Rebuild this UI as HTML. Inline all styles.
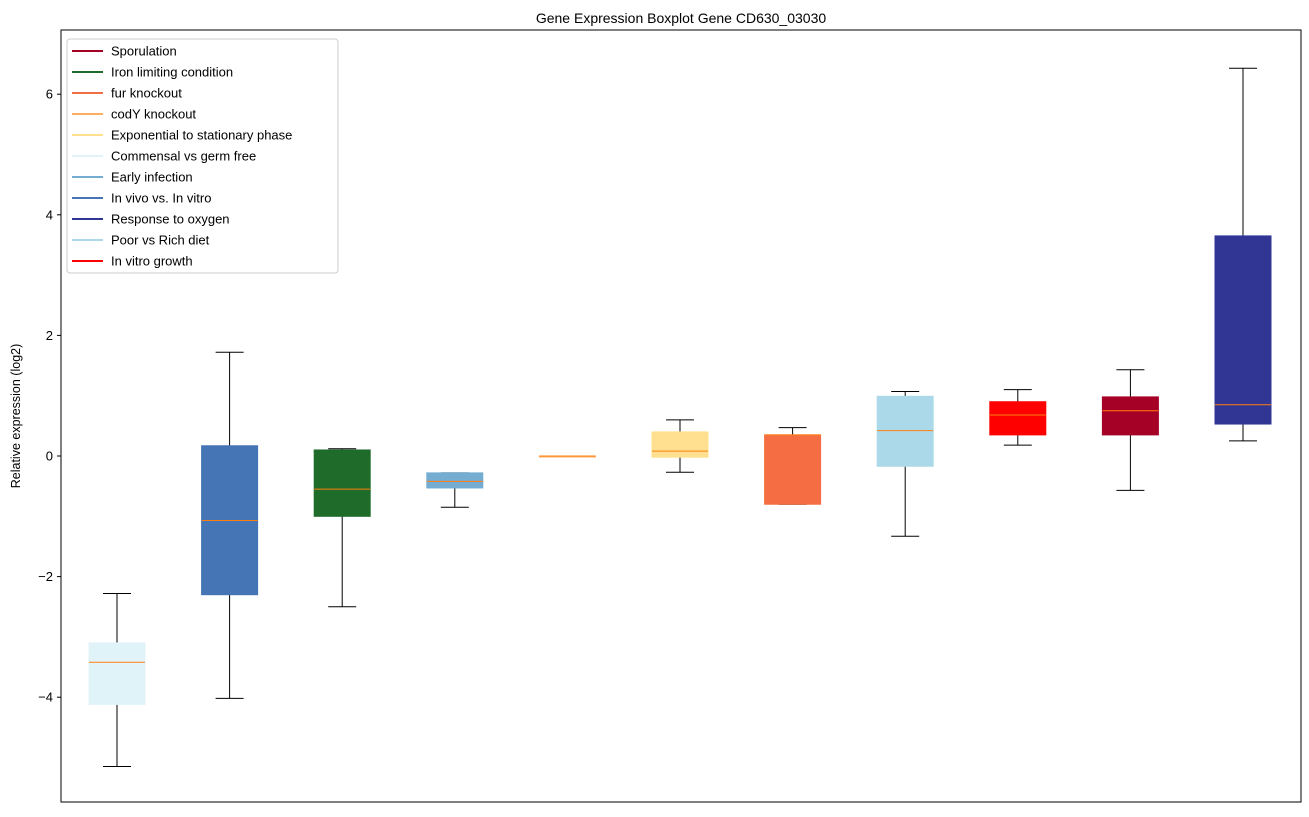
<!DOCTYPE html>
<html><head><meta charset="utf-8"><style>
body{margin:0;background:#fff;font-family:"Liberation Sans",sans-serif}
text{font-family:"Liberation Sans","DejaVu Sans",sans-serif}
</style></head><body>
<svg id="chart" width="1309" height="812" xmlns="http://www.w3.org/2000/svg">
<text x="681" y="23" font-size="14" text-anchor="middle">Gene Expression Boxplot Gene CD630_03030</text>
<text transform="translate(20,416) rotate(-90)" font-size="12.5" text-anchor="middle">Relative expression (log2)</text>
<g id="marks"></g>
<rect x="61" y="30" width="1240" height="772" fill="none" stroke="#000" stroke-width="1"/>
<g id="yticks"></g>
<g id="legend"></g>
</svg>
<script>
const categories=["Commensal vs germ free","In vivo vs. In vitro","Iron limiting condition","Early infection","codY knockout","Exponential to stationary phase","fur knockout","Poor vs Rich diet","In vitro growth","Sporulation","Response to oxygen"];
const colors=["#e0f3f8","#4575b4","#1f6b2a","#74add1","#fdae61","#fee090","#f46d43","#abd9e9","#ff0000","#a50026","#313695"];
const whiskerLow=[-5.15,-4.02,-2.5,-0.85,0,-0.27,-0.8,-1.33,0.18,-0.57,0.25];
const q1=[-4.12,-2.3,-1.0,-0.53,0,-0.02,-0.8,-0.17,0.35,0.35,0.53];
const medians=[-3.42,-1.07,-0.55,-0.42,0,0.08,0.35,0.42,0.68,0.75,0.85];
const q3=[-3.1,0.17,0.1,-0.28,0,0.4,0.35,0.99,0.9,0.98,3.65];
const whiskerHigh=[-2.28,1.72,0.12,-0.28,0,0.6,0.47,1.07,1.1,1.43,6.43];
const yTicks=[-4,-2,0,2,4,6];
const legendLabels=["Sporulation","Iron limiting condition","fur knockout","codY knockout","Exponential to stationary phase","Commensal vs germ free","Early infection","In vivo vs. In vitro","Response to oxygen","Poor vs Rich diet","In vitro growth"];
const legendColors=["#a50026","#1f6b2a","#f46d43","#fdae61","#fee090","#e0f3f8","#74add1","#4575b4","#313695","#abd9e9","#ff0000"];
const NS="http://www.w3.org/2000/svg";
const y=v=>456-v*60.3;
const x=i=>117+i*112.6;
function mk(tag,attrs,parent){const e=document.createElementNS(NS,tag);for(const k in attrs)e.setAttribute(k,attrs[k]);parent.appendChild(e);return e;}
const marks=document.getElementById('marks');
categories.forEach((c,i)=>{
 const g=mk('g',{},marks);
 
 
 const cx=x(i),w=56;
 mk('line',{x1:cx,x2:cx,y1:y(whiskerLow[i]),y2:y(q1[i]),stroke:'#000'},g);
 mk('line',{x1:cx,x2:cx,y1:y(q3[i]),y2:y(whiskerHigh[i]),stroke:'#000'},g);
 mk('line',{x1:cx-14,x2:cx+14,y1:y(whiskerLow[i]),y2:y(whiskerLow[i]),stroke:'#000'},g);
 mk('line',{x1:cx-14,x2:cx+14,y1:y(whiskerHigh[i]),y2:y(whiskerHigh[i]),stroke:'#000'},g);
 mk('rect',{x:cx-w/2,y:y(q3[i]),width:w,height:Math.max(1,y(q1[i])-y(q3[i])),fill:colors[i],stroke:colors[i]},g);
 mk('line',{x1:cx-w/2,x2:cx+w/2,y1:y(medians[i]),y2:y(medians[i]),stroke:'#ff7f0e'},g);
});
const yt=document.getElementById('yticks');
yTicks.forEach(v=>{
 mk('line',{x1:57,x2:61,y1:y(v),y2:y(v),stroke:'#000'},yt);
 const t=mk('text',{x:53,y:y(v)+4.5,'font-size':13,'text-anchor':'end'},yt);
 
 
 t.textContent=(v<0?'\u2212'+(-v):v);
});
const lg=document.getElementById('legend');


mk('rect',{x:67,y:39,width:271,height:234,rx:3,fill:'#fff',stroke:'#ccc'},lg);
legendLabels.forEach((l,i)=>{
 const e=mk('g',{},lg);
 
 
 const yy=51+i*21;
 mk('line',{x1:72,x2:103,y1:yy,y2:yy,stroke:legendColors[i],'stroke-width':2},e);
 const t=mk('text',{x:111,y:yy+4.5,'font-size':13},e);
 t.textContent=l;
});
</script>
</body></html>
